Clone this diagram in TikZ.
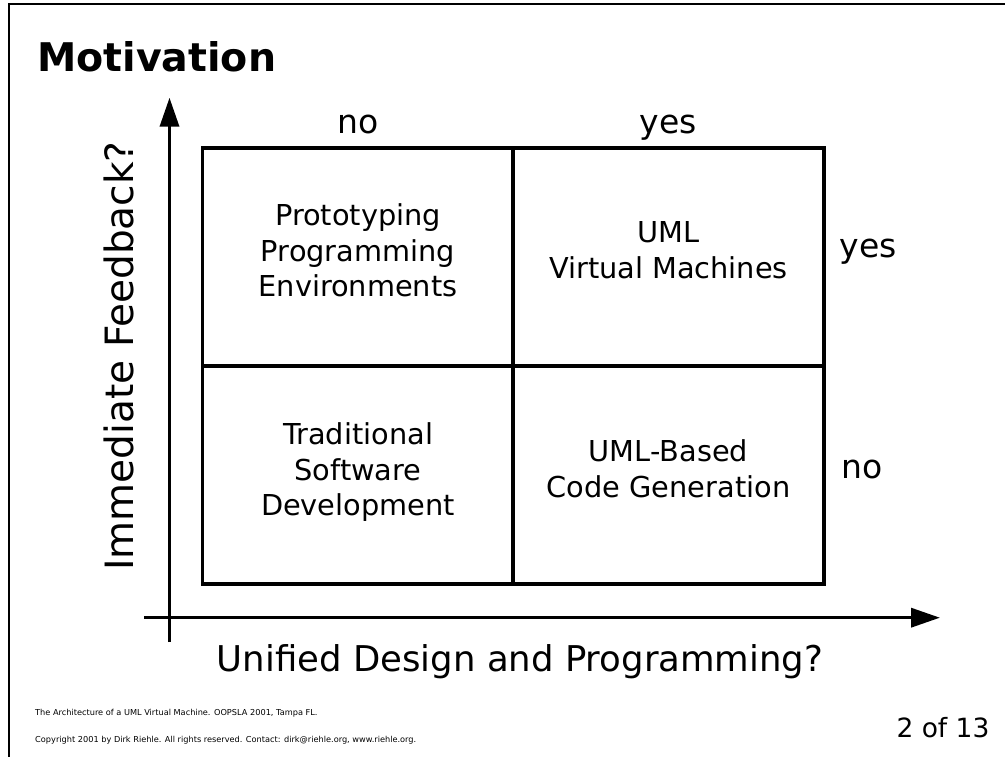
\documentclass[tikz,border=0pt]{standalone}
\usepackage{fontspec}
\setmainfont{DejaVu Sans}
\usetikzlibrary{arrows.meta}
\begin{document}
\begin{tikzpicture}[x=1pt,y=-1pt,
  frameline/.style={line width=1.3pt},
  axisline/.style={line width=3.5pt,-{Triangle[length=29pt,width=19pt]}},
  cellbox/.style={draw,line width=3.5pt,minimum width=311pt,minimum height=218pt,inner sep=0pt},
  celltext/.style={align=center,font=\fontsize{28.8}{35.5}\selectfont,inner sep=0pt},
  tick/.style={font=\fontsize{33}{38}\selectfont,inner sep=0pt,anchor=base},
  foot/.style={font=\fontsize{8.2}{9}\selectfont,inner sep=0pt,anchor=west}]
\useasboundingbox (0,0) rectangle (1005,757);
% frame
\coordinate (fTL) at (9,4);
\coordinate (fTR) at (1005,4);
\coordinate (fBL) at (9,757);
\draw[frameline] (fBL) -- (fTL) -- (fTR);
% title
\node[anchor=base west,inner sep=0pt,font=\fontsize{39.5}{46}\bfseries] (title) at (37,72) {Motivation};
% grid cells
\node[cellbox] (c11) at (358,257) {};
\node[cellbox] (c12) at (668.5,257) {};
\node[cellbox] (c21) at (358,475) {};
\node[cellbox] (c22) at (668.5,475) {};
% cell texts
\node[celltext] (t11) at (358,250.5) {Prototyping\\Programming\\Environments};
\node[celltext] (t12) at (668.5,250) {UML\\Virtual Machines};
\node[celltext] (t21) at (358,472.5) {Traditional\\Software\\Development};
\node[celltext] (t22) at (668.5,469) {UML-Based\\Code Generation};
% axes
\coordinate (yb) at (169.5,642);
\coordinate (yt) at (169.5,97.7);
\coordinate (xl) at (144,617.7);
\coordinate (xr) at (940,617.7);
\draw[axisline] (yb) -- (yt);
\draw[axisline] (xl) -- (xr);
% tick labels
\node[tick] (nTop) at (358,134) {no};
\node[tick] (yTop) at (668.5,134) {yes};
\node[tick] (yRight) at (868,258) {yes};
\node[tick] (nRight) at (862,478) {no};
% axis labels
\node[inner sep=0pt,font=\fontsize{39}{44}\selectfont,rotate=90] (ylab) at (119,356) {Immediate Feedback?};
\node[inner sep=0pt,font=\fontsize{35.5}{40}\selectfont] (xlab) at (520,662) {Unified Design and Programming?};
% footer
\node[foot] (f1) at (35,713) {The Architecture of a UML Virtual Machine. OOPSLA 2001, Tampa FL.};
\node[foot] (f2) at (35,740) {Copyright 2001 by Dirk Riehle. All rights reserved. Contact: dirk@riehle.org, www.riehle.org.};
\node[inner sep=0pt,font=\fontsize{26.5}{30}\selectfont] (pg) at (943,728) {2 of 13};
\end{tikzpicture}
\end{document}
